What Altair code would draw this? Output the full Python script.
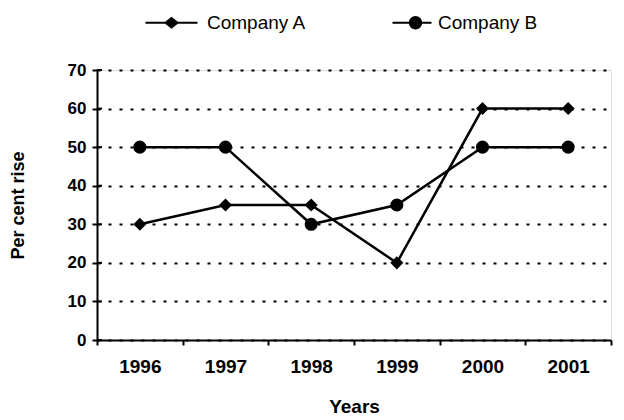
import altair as alt
import pandas as pd

YEARS = ["1996", "1997", "1998", "1999", "2000", "2001"]
COMPANY_A = [30, 35, 35, 20, 60, 60]
COMPANY_B = [50, 50, 30, 35, 50, 50]
SERIES = ["Company A", "Company B"]
Y_TICKS = [0, 10, 20, 30, 40, 50, 60, 70]

rows = []
for name, vals in zip(SERIES, [COMPANY_A, COMPANY_B]):
    for yr, v in zip(YEARS, vals):
        rows.append({"Year": yr, "Value": v, "Company": name})
df = pd.DataFrame(rows)

FONT = "Liberation Sans"

# custom legend symbols: a line with a (stroke-filled) marker on it
PATH_A = (
    "M-5.2,0H5.2"
    "M-1.2,0L0,-0.95L1.2,0L0,0.95Z"
    "M-0.8,0L0,-0.6L0.8,0L0,0.6Z"
    "M-0.35,0L0,-0.25L0.35,0L0,0.25Z"
)
PATH_B = (
    "M-2,0H5.8"
    "M3.75,0A1.15,1.15,0,1,1,1.45,0A1.15,1.15,0,1,1,3.75,0Z"
    "M3.35,0A0.75,0.75,0,1,1,1.85,0A0.75,0.75,0,1,1,3.35,0Z"
    "M2.95,0A0.35,0.35,0,1,1,2.25,0A0.35,0.35,0,1,1,2.95,0Z"
)

x_enc = alt.X(
    "Year:N",
    sort=YEARS,
    scale=alt.Scale(paddingInner=0, paddingOuter=0),
    axis=alt.Axis(
        title="Years",
        labelAngle=0,
        tickBand="extent",
        tickSize=5,
        tickWidth=2,
        tickColor="black",
        domainColor="black",
        domainWidth=2,
        labelFont=FONT,
        labelFontSize=19,
        labelFontWeight="bold",
        labelColor="black",
        labelPadding=12,
        titleFont=FONT,
        titleFontSize=19,
        titleFontWeight="bold",
        titleColor="black",
        titlePadding=21,
        grid=False,
    ),
)

y_scale = alt.Scale(domain=[0, 70], nice=False)
y_axis = alt.Axis(
    title="Per cent rise",
    orient="left",
    values=Y_TICKS,
    tickSize=5,
    tickWidth=2,
    tickColor="black",
    domainColor="black",
    domainWidth=2,
    labelFont=FONT,
    labelFontSize=17,
    labelFontWeight="bold",
    labelColor="black",
    labelPadding=6,
    titleFont=FONT,
    titleFontSize=18,
    titleFontWeight="bold",
    titleColor="black",
    titlePadding=40,
    grid=True,
    gridColor="black",
    gridDash=[3, 8],
    gridWidth=2,
    gridOpacity=1,
)

lines = alt.Chart(df).mark_line(color="black", strokeWidth=2.5).encode(
    x=x_enc,
    y=alt.Y("Value:Q", scale=y_scale, axis=y_axis, title="Per cent rise"),
    detail="Company:N",
)

points = alt.Chart(df).mark_point(filled=True, color="black", opacity=1, size=170).encode(
    x=x_enc,
    y=alt.Y("Value:Q", scale=y_scale, axis=y_axis, title="Per cent rise"),
    shape=alt.Shape(
        "Company:N",
        scale=alt.Scale(domain=SERIES, range=["diamond", "circle"]),
        legend=None,
    ),
)

legend_layer = alt.Chart(df).mark_point(filled=False, color="black", opacity=0, size=100).encode(
    x=x_enc,
    y=alt.Y("Value:Q", scale=y_scale, axis=y_axis, title="Per cent rise"),
    shape=alt.Shape(
        "Company:N",
        scale=alt.Scale(domain=SERIES, range=[PATH_A, PATH_B]),
        legend=alt.Legend(
            title=None,
            orient="none",
            direction="horizontal",
            legendX=65,
            legendY=-57,
            symbolSize=100,
            symbolOpacity=1,
            symbolFillColor="black",
            symbolStrokeColor="black",
            symbolStrokeWidth=2,
            labelFont=FONT,
            labelFontSize=19,
            labelColor="black",
            labelOffset=26,
            columnPadding=81,
        ),
    ),
)

# inner half of the crossing y-axis ticks
inner_ticks = alt.Chart(pd.DataFrame({"Value": Y_TICKS})).mark_rule(color="black", strokeWidth=2).encode(
    y=alt.Y("Value:Q", scale=y_scale, axis=y_axis, title="Per cent rise"),
    x=alt.value(0),
    x2=alt.value(5),
)

chart = (
    alt.layer(lines, inner_ticks, points, legend_layer)
    .resolve_scale(shape="independent")
    .properties(
        width=514,
        height=270,
        autosize=alt.AutoSizeParams(type="none"),
        padding={"left": 89, "top": 62, "right": 4, "bottom": 75},
    )
    .configure_view(stroke=None)
    .configure(background="white")
)

chart.save("out.html", embed_options={"renderer": "svg", "actions": False})
